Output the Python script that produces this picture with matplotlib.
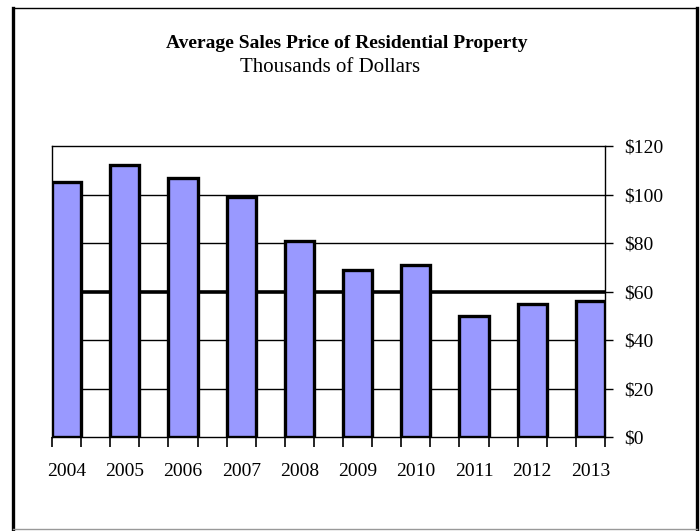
import numpy as np
import matplotlib.pyplot as plt
from matplotlib.lines import Line2D

# average sales price, thousands of dollars
years = ["2004", "2005", "2006", "2007", "2008", "2009", "2010", "2011", "2012", "2013"]
prices = [105, 112, 107, 99, 81, 69, 71, 50, 55, 56]
y_ticks = [0, 20, 40, 60, 80, 100, 120]
y_labels = ["$0", "$20", "$40", "$60", "$80", "$100", "$120"]

plt.rcParams["font.family"] = ["Liberation Serif", "DejaVu Serif"]

fig = plt.figure(figsize=(7.0, 5.31), dpi=100)
ax = fig.add_axes([0.0743, 0.177, 0.79, 0.548])

x = np.arange(len(years))
width = 0.5

# gridlines by hand so the $60 line can be heavier
for v in y_ticks[1:-1]:
    lw = 2.6 if v == 60 else 1.0
    ax.axhline(v, color="black", lw=lw, zorder=1)

ax.bar(x, prices, width=width, color="#9999ff", edgecolor="black",
       linewidth=2.4, zorder=2)

ax.set_xlim(-0.25, len(years) - 0.75)
ax.set_ylim(0, 120)

ax.yaxis.tick_right()
ax.set_yticks(y_ticks)
ax.set_yticklabels(y_labels)
ax.tick_params(axis="y", direction="out", length=6, width=1, pad=8,
               labelsize=14, colors="black")

ax.set_xticks(x)
ax.set_xticklabels(years)
ax.tick_params(axis="x", which="major", length=0, pad=19, labelsize=14)
edges = np.concatenate([x - width / 2, x + width / 2])
ax.set_xticks(np.sort(edges), minor=True)
ax.tick_params(axis="x", which="minor", direction="out", length=7, width=1.2)

for s in ax.spines.values():
    s.set_linewidth(1.0)
    s.set_color("black")
    s.set_zorder(3)

fig.text(0.496, 1 - 44 / 531, "Average Sales Price of Residential Property",
         ha="center", va="center", fontsize=14, fontweight="bold")
fig.text(0.472, 1 - 67 / 531, "Thousands of Dollars",
         ha="center", va="center", fontsize=15)

# outer chart frame
W, H = 700, 531
fig.add_artist(Line2D([13 / W, 697 / W], [1 - 8 / H, 1 - 8 / H], color="black", lw=1.0))
fig.add_artist(Line2D([13 / W, 13 / W], [1 - 8 / H, 1 - 531 / H], color="black", lw=2.4))
fig.add_artist(Line2D([697 / W, 697 / W], [1 - 8 / H, 1 - 531 / H], color="black", lw=2.4))
fig.add_artist(Line2D([13 / W, 697 / W], [1 - 529 / H, 1 - 529 / H], color="#999999", lw=1.0))

fig.savefig("out.png", dpi=100)
